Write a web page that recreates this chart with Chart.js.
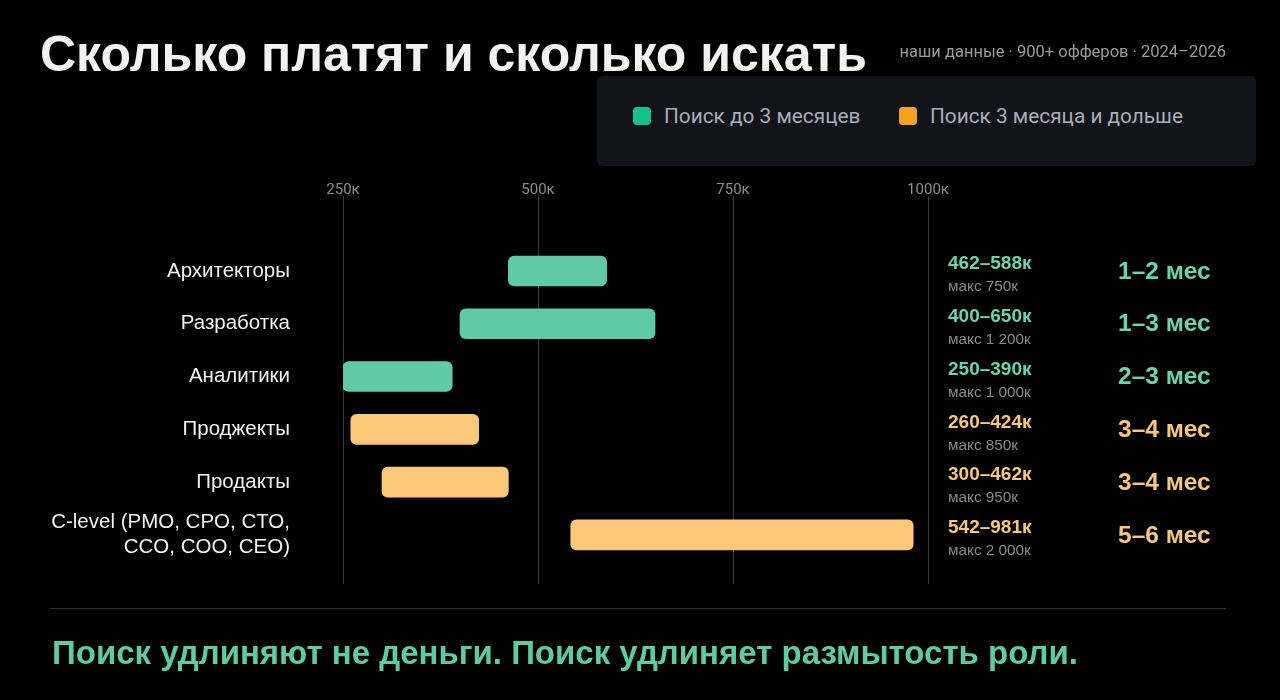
<!DOCTYPE html>
<html>
<head>
<meta charset="utf-8">
<script src="https://cdn.jsdelivr.net/npm/chart.js@4.4.1/dist/chart.umd.min.js"></script>
<style>
  html, body { margin: 0; padding: 0; background: #000; }
  #wrap { position: relative; width: 1280px; height: 700px; overflow: hidden; background: #000; }
  #chart { position: absolute; left: 0; top: 0; }
  .title { position: absolute; left: 40px; top: 25px; font: bold 50px "Liberation Sans", Arial, sans-serif; color: #f2f2f2; white-space: nowrap; }
  .sub { position: absolute; right: 54px; top: 42px; font: 16.5px Roboto, sans-serif; color: #9a9a9a; white-space: nowrap; }
  .legend { position: absolute; left: 597px; top: 76px; width: 659px; height: 90px; background: #121419; border-radius: 6px; }
  .legend .item { position: absolute; top: 28px; display: flex; align-items: center; font: 20.8px Roboto, sans-serif; color: #a9aeb8; white-space: nowrap; }
  .legend .sw { width: 18px; height: 18px; border-radius: 4px; margin-right: 13px; }
  .sep { position: absolute; left: 50px; top: 608px; width: 1176px; height: 1px; background: #333; }
  .foot { position: absolute; left: 52px; top: 634px; font: bold 33px "Liberation Sans", Arial, sans-serif; color: #5ecba1; white-space: nowrap; }
</style>
</head>
<body>
<div id="wrap">
  <canvas id="chart" width="1280" height="700"></canvas>
  <div class="title">Сколько платят и сколько искать</div>
  <div class="sub">наши данные · 900+ офферов · 2024–2026</div>
  <div class="legend" id="legend"></div>
  <div class="sep"></div>
  <div class="foot">Поиск удлиняют не деньги. Поиск удлиняет размытость роли.</div>
</div>
<script>
// roles (top to bottom)
const roles = [
  'Архитекторы',
  'Разработка',
  'Аналитики',
  'Проджекты',
  'Продакты',
  ['C-level (PMO, CPO, CTO,', 'CCO, COO, CEO)']
];
// salary range, thousands of rubles
const salaryLow  = [462, 400, 250, 260, 300, 542];
const salaryHigh = [588, 650, 390, 424, 462, 981];
const salaryMax  = [750, 1200, 1000, 850, 950, 2000];
// time to find
const searchTime = ['1–2 мес', '1–3 мес', '2–3 мес', '3–4 мес', '3–4 мес', '5–6 мес'];
// true = search takes 3 months or longer
const longSearch = [false, false, false, true, true, true];
const xTicks = [250, 500, 750, 1000];

const seriesNames = ['Поиск до 3 месяцев', 'Поиск 3 месяца и дольше'];
const legendColors = ['#14c08b', '#f7a21e'];
const barColors = ['#5ecba6', '#fcc97a'];
const textColors = ['#6bd3ad', '#f8c97c'];

function rowsFor(isLong) {
  return roles.map((r, i) => longSearch[i] === isLong ? { y: i, x: [salaryLow[i], salaryHigh[i]] } : null)
    .filter(Boolean);
}

function fmtK(v) {
  return String(v).replace(/\B(?=(\d{3})+(?!\d))/g, ' ') + 'к';
}

const sideNotes = {
  id: 'sideNotes',
  afterDatasetsDraw(chart) {
    const ctx = chart.ctx;
    const y = chart.scales.y;
    const left = chart.chartArea.right + 20;
    ctx.save();
    ctx.textBaseline = 'middle';
    roles.forEach((r, i) => {
      const py = y.getPixelForValue(i);
      const c = textColors[longSearch[i] ? 1 : 0];
      ctx.textAlign = 'left';
      ctx.fillStyle = c;
      ctx.font = 'bold 19px "Liberation Sans", Arial, sans-serif';
      ctx.fillText(salaryLow[i] + '–' + salaryHigh[i] + 'к', left, py - 7);
      ctx.fillStyle = '#8a8a8a';
      ctx.font = '15.3px "Liberation Sans", Arial, sans-serif';
      ctx.fillText('макс ' + fmtK(salaryMax[i]), left, py + 16);
      ctx.fillStyle = c;
      ctx.font = 'bold 24.5px "Liberation Sans", Arial, sans-serif';
      ctx.fillText(searchTime[i], left + 170, py + 1);
    });
    ctx.restore();
  }
};

const chart = new Chart(document.getElementById('chart'), {
  type: 'bar',
  data: {
    datasets: [
      { label: seriesNames[0], data: rowsFor(false), backgroundColor: barColors[0] },
      { label: seriesNames[1], data: rowsFor(true), backgroundColor: barColors[1] }
    ]
  },
  options: {
    indexAxis: 'y',
    responsive: false,
    animation: false,
    layout: { padding: { left: 0, right: 352, top: 170, bottom: 116 } },
    datasets: {
      bar: { barThickness: 30, borderRadius: 6, borderSkipped: false, grouped: false }
    },
    plugins: {
      legend: { display: false },
      tooltip: { enabled: false }
    },
    scales: {
      x: {
        type: 'linear',
        position: 'top',
        min: 250,
        max: 1000,
        afterBuildTicks: (s) => { s.ticks = xTicks.map(v => ({ value: v })); },
        afterFit: (s) => { s.height = 26; },
        border: { display: false },
        grid: { color: '#3a3a3a', lineWidth: 1, drawTicks: false },
        ticks: {
          padding: -3,
          color: '#8c8c8c',
          font: { family: 'Roboto', size: 15 },
          callback: (v) => v + 'к'
        }
      },
      y: {
        type: 'linear',
        reverse: true,
        offset: false,
        min: -1.42,
        max: 5.93,
        afterBuildTicks: (s) => { s.ticks = roles.map((r, i) => ({ value: i })); },
        afterFit: (s) => { s.width = 343; },
        border: { display: false },
        grid: { display: false, drawTicks: false },
        ticks: {
          padding: 53,
          color: '#f0f0f0',
          font: { family: 'Liberation Sans', size: 20.5, lineHeight: 1.22 },
          callback: (v) => roles[v]
        }
      }
    }
  },
  plugins: [sideNotes]
});

// html legend built from the chart datasets
const legendEl = document.getElementById('legend');
const legendX = [36, 302];
chart.data.datasets.forEach((ds, i) => {
  const item = document.createElement('div');
  item.className = 'item';
  item.style.left = legendX[i] + 'px';
  item.innerHTML = '<span class="sw" style="background:' + legendColors[i] + '"></span>' + ds.label;
  legendEl.appendChild(item);
});
</script>
</body>
</html>
